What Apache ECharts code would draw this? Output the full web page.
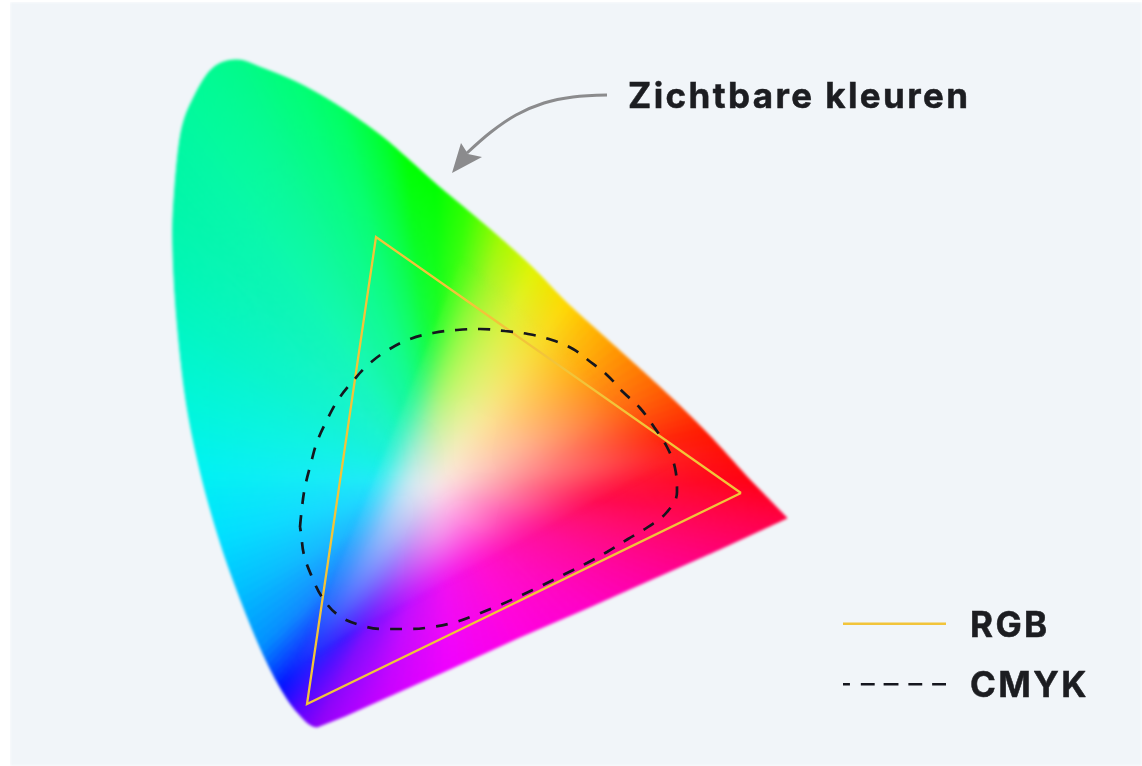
<!DOCTYPE html>
<html>
<head>
<meta charset="utf-8">
<title>Zichtbare kleuren</title>
<script src="https://cdn.jsdelivr.net/npm/echarts@6/dist/echarts.min.js"></script>
<style>
  body { margin: 0; background: #fff; }
  .panel { position: absolute; left: 10px; top: 2px; width: 1132px; height: 764px; }
  #gamut { background: #f1f5f9; filter: blur(1.4px); clip-path: inset(0); }
  /* the pale middle is the same field, blurred hard and cut to the inner triangle */
  #softFeather { filter: blur(3px); }
  #softClip { position: absolute; inset: 0; }
  #gamutSoft { position: absolute; inset: 0; filter: blur(9px); }
  #chart { letter-spacing: 2.4px; filter: blur(0.4px); }
</style>
</head>
<body>
<div id="gamut" class="panel"></div>
<div id="softFeather" class="panel"><div id="softClip"><div id="gamutSoft"></div></div></div>
<div id="chart" class="panel"></div>
<script>
/* ================= data (axis units = picture pixels) ================= */
const gamutOutline = [
  [237,60],[262,68],[300,84],[340,107],[380,135],[408,159],[437,185],[467,210],
  [500,238],[533,268],[567,303],[610,342],[663,390],[707,433],[750,480],[787,518],
  [720,549],[650,580],[585,609],[520,637],[450,669],[385,698],[345,716],[317,727],
  [298,713],[280,687],[260,647],[237,590],[218,535],[200,470],[186,400],[177,320],
  [173,250],[174,200],[181,133],[194,97],[213,68]
];
// colour halfway between the white point and the inner triangle
const midColours = [
  "#b9eed2","#b9eed0","#b4f0c8","#aff0be","#aaf0aa","#b4f09c","#b9f582","#aafa5a",
  "#d2f56e","#e6f082","#fae68c","#ffcd87","#ffaf8c","#ff827d","#ff6e82","#ff78a0",
  "#ff82af","#ff6ebe","#ff8ccd","#ff82e1","#f596eb","#e18cf0","#cd82f5","#b982fa",
  "#9682ff","#7d96ff","#a5befa","#bed7fa","#c3e1f5","#cdebf5","#c8ebf0","#c3ebe6",
  "#c3ebe1","#beebdc","#beebdc","#beebd7","#b9ebd2"
];
// colour where each spoke leaves the inner triangle
const edgeColours = [
  "#18f8a8","#16f8a4","#14fa9c","#14fb8c","#14fc70","#14fd50","#1efe28","#40ff10",
  "#a8f428","#e0f030","#f8dc24","#ffae10","#ff6e14","#ff280f","#ff143c","#ff0a50",
  "#ff1070","#ff1095","#ff10b0","#ff10d0","#f010f0","#c010ff","#9010ff","#7810ff",
  "#4018ff","#1830ff","#1e82ff","#20b8ff","#20d4ff","#20e8f8","#18f0e8","#18f2d8",
  "#18f4d0","#18f4c8","#18f6c0","#18f8b8","#18f8b0"
];
// colour at the rim of the visible gamut
const rimColours = [
  "#00fa88","#00fc80","#00fe74","#00ff60","#00ff30","#00ff00","#00ff00","#30ff00",
  "#a0fa00","#e0f400","#ffd800","#ffa000","#ff5c00","#ff1800","#ff0010","#ff0040",
  "#ff0070","#ff00a0","#ff00c8","#ff00e0","#f000ff","#c800ff","#a800ff","#9000f8",
  "#6000ff","#0010ff","#0090ff","#00c0ff","#00e0ff","#00f2f2","#00f6d8","#00f6c0",
  "#00f6b0","#00f6a8","#00f8a0","#00fa98","#00fa90"
];
const whitePoint = [438, 486];
const whiteColour = "#fbeaea";
const innerTriangle = [[462,262],[672,458],[303,657]];

const rgbTriangle = [[741,493],[376,237],[307,704],[741,493]];
const cmykCurve = [
  [300,527],[302,507],[305,487],[311,463],[317,442],[327,420],[338,400],[353,381],
  [369,364],[388,350],[410,339],[433,333],[457,330],[480,329],[505,331],[528,334],
  [552,340],[573,349],[588,360],[607,375],[623,392],[640,408],[654,427],[667,447],
  [675,468],[677,492],[667,512],[648,527],[628,539],[607,552],[587,563],[565,574],
  [543,585],[522,595],[500,605],[478,614],[456,622],[432,627],[408,629],[383,629],
  [360,625],[338,615],[322,597],[312,577],[304,555],[301,533],[300,527]
];
const arrowShaft = [[607,95],[573,97],[544,103],[516,115],[491,132],[467,153]];
const arrowHead = [[452,173],[461,143],[468,154],[482,157]];
const headingPoint = [[628,95]];
const headingText = "Zichtbare kleuren";

/* ================= helpers ================= */
const toRgb = (hex) => [1, 3, 5].map((i) => parseInt(hex.slice(i, i + 2), 16));
const mix = (a, b, t) => {
  const ca = toRgb(a), cb = toRgb(b);
  return "rgb(" + ca.map((v, i) => Math.round(v + (cb[i] - v) * t)).join(",") + ")";
};

// fraction along the spoke white point -> p where it crosses the inner triangle
const edgeFraction = (p) => {
  const dx = p[0] - whitePoint[0], dy = p[1] - whitePoint[1];
  let best = 0.98;
  innerTriangle.forEach((a, i) => {
    const b = innerTriangle[(i + 1) % 3];
    const ex = b[0] - a[0], ey = b[1] - a[1];
    const den = dx * ey - dy * ex;
    if (!den) return;
    const s = ((a[0] - whitePoint[0]) * ey - (a[1] - whitePoint[1]) * ex) / den;
    const u = ((a[0] - whitePoint[0]) * dy - (a[1] - whitePoint[1]) * dx) / den;
    if (s > 0 && u >= 0 && u <= 1 && s < best) best = s;
  });
  return best;
};

// rounds the read rim between the points; the straight bottom side stays straight
const N = gamutOutline.length;
const rimPoint = (i, t) => {
  const p1 = gamutOutline[i], p2 = gamutOutline[(i + 1) % N];
  if (i >= 14 && i <= 22) return [p1[0] + (p2[0] - p1[0]) * t, p1[1] + (p2[1] - p1[1]) * t];
  const p0 = gamutOutline[(i - 1 + N) % N], p3 = gamutOutline[(i + 2) % N];
  return [0, 1].map((d) =>
    0.5 * (2 * p1[d] + (p2[d] - p0[d]) * t +
      (2 * p0[d] - 5 * p1[d] + 4 * p2[d] - p3[d]) * t * t +
      (3 * p1[d] - p0[d] - 3 * p2[d] + p3[d]) * t * t * t));
};

const SUB = 8;
const renderWedges = (params, api) => {
  const i = params.dataIndex;
  const j = (i + 1) % N;
  const c = api.coord(whitePoint);
  const children = [];
  for (let k = 0; k < SUB; k++) {
    const t0 = k / SUB, t1 = (k + 1) / SUB, tm = (t0 + t1) / 2;
    const a = rimPoint(i, t0), b = rimPoint(i, t1);
    const m = [(a[0] + b[0]) / 2, (a[1] + b[1]) / 2];
    const pa = api.coord(a), pb = api.coord(b), pm = api.coord(m);
    const r = Math.max(Math.hypot(pa[0] - c[0], pa[1] - c[1]), Math.hypot(pb[0] - c[0], pb[1] - c[1]));
    const lm = Math.hypot(pm[0] - c[0], pm[1] - c[1]);
    const off = Math.min(0.98, edgeFraction(m) * lm / r);
    const grad = new echarts.graphic.RadialGradient(c[0], c[1], r, [
      { offset: 0, color: whiteColour },
      { offset: off / 2, color: mix(midColours[i], midColours[j], tm) },
      { offset: off, color: mix(edgeColours[i], edgeColours[j], tm) },
      { offset: 1, color: mix(rimColours[i], rimColours[j], tm) },
    ], true);
    children.push({
      type: "polygon",
      shape: { points: [c, pa, pb] },
      style: { fill: grad, stroke: grad, lineWidth: 1 },
    });
  }
  return { type: "group", children };
};

const axes = {
  animation: false,
  grid: { left: 0, right: 0, top: 0, bottom: 0 },
  xAxis: { type: "value", min: 10, max: 1142, show: false },
  yAxis: { type: "value", min: 2, max: 766, inverse: true, show: false },
};
const gamutOption = {
  ...axes,
  series: [
    {
      type: "custom",
      name: "gamut",
      silent: true,
      coordinateSystem: "cartesian2d",
      data: gamutOutline,
      renderItem: renderWedges,
    },
  ],
};

/* ================= colour field ================= */
const gamutChart = echarts.init(document.getElementById("gamut"));
gamutChart.setOption(gamutOption);

const softChart = echarts.init(document.getElementById("gamutSoft"), null, { width: 1132, height: 764 });
softChart.setOption(gamutOption);
const clipCorners = innerTriangle
  .map((p) => gamutChart.convertToPixel({ gridIndex: 0 }, p))
  .map((p) => p[0] + "px " + p[1] + "px");
document.getElementById("softClip").style.clipPath = "polygon(" + clipCorners.join(",") + ")";

/* ================= lines, legend, text (svg so letter-spacing applies) ================= */
const chart = echarts.init(document.getElementById("chart"), null, { renderer: "svg" });
chart.setOption({
  ...axes,
  legend: {
    data: [
      { name: "RGB", icon: "rect" },
      { name: "CMYK", icon: "path://M0 0h7v3H0z M18 0h14v3H18z M41 0h15v3H41z M66 0h14v3H66z M90 0h14v3H90z" },
    ],
    orient: "vertical",
    left: 833,
    top: 604,
    padding: 0,
    itemWidth: 103,
    itemHeight: 2.5,
    itemGap: 25,
    symbolKeepAspect: false,
    selectedMode: false,
    textStyle: { fontFamily: "Inter", fontWeight: 700, fontSize: 35, color: "#1c1d21", padding: [0, 0, 0, 19],
      textBorderColor: "#1c1d21", textBorderWidth: 0.5 },
  },
  series: [
    {
      type: "line",
      name: "RGB",
      data: rgbTriangle,
      symbol: "none",
      lineStyle: { color: "#f2c43a", width: 2.3, join: "miter" },
      itemStyle: { color: "#f2c43a" },
      z: 3,
    },
    {
      type: "line",
      name: "CMYK",
      data: cmykCurve,
      smooth: 0.4,
      symbol: "none",
      lineStyle: { color: "#15161e", width: 2.7, type: [12, 11] },
      itemStyle: { color: "#15161e" },
      z: 4,
    },
    {
      type: "line",
      name: "arrowShaft",
      silent: true,
      data: arrowShaft,
      smooth: 0.35,
      symbol: "none",
      lineStyle: { color: "#8b8b8d", width: 3 },
      z: 5,
    },
    {
      type: "custom",
      name: "arrowHead",
      silent: true,
      data: [0],
      renderItem: (params, api) => ({
        type: "polygon",
        shape: { points: arrowHead.map((p) => api.coord(p)) },
        style: { fill: "#8b8b8d" },
      }),
      encode: { x: -1, y: -1 },
      z: 5,
    },
    {
      type: "scatter",
      name: "heading",
      silent: true,
      data: headingPoint,
      symbolSize: 0,
      itemStyle: { opacity: 1 },
      label: {
        show: true,
        position: "right",
        distance: 0,
        formatter: headingText,
        fontFamily: "Inter",
        fontWeight: 700,
        fontSize: 35,
        color: "#1c1d21",
        textBorderColor: "#1c1d21",
        textBorderWidth: 0.5,
      },
      z: 6,
    },
  ],
});
</script>
</body>
</html>
